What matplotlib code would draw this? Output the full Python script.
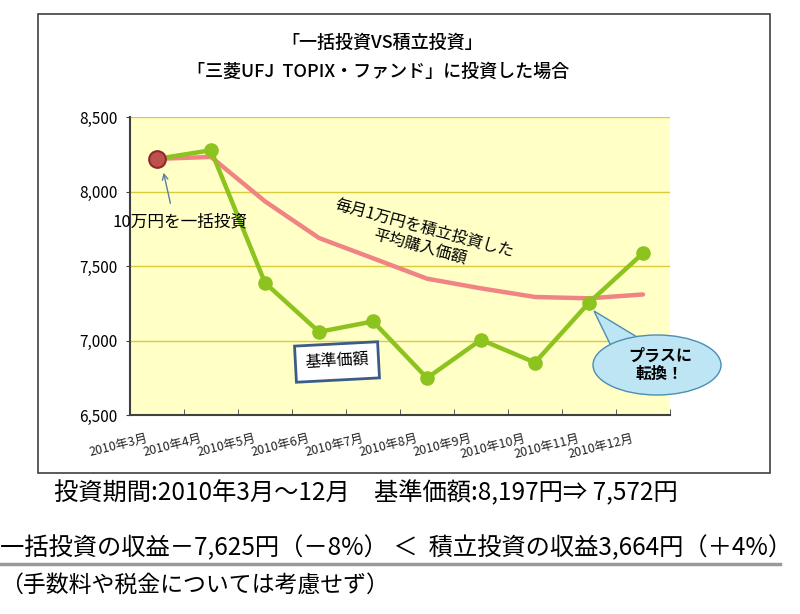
import matplotlib
matplotlib.use("Agg")
import matplotlib.pyplot as plt
import matplotlib.transforms as mtransforms
from matplotlib.patches import Rectangle, Ellipse, Polygon
from matplotlib.ticker import FuncFormatter, MultipleLocator

plt.rcParams["font.family"] = ["Noto Sans CJK JP", "DejaVu Sans"]

months = ["2010年3月", "2010年4月", "2010年5月", "2010年6月", "2010年7月",
          "2010年8月", "2010年9月", "2010年10月", "2010年11月", "2010年12月"]
nav = [8219, 8277, 7387, 7058, 7128, 6748, 7005, 6852, 7254, 7586]
avg_cost = [8219, 8232, 7934, 7688, 7552, 7415, 7350, 7292, 7283, 7309]

W, H = 800, 614


def fx(x):
    return x / W


def fy(y):
    return 1 - y / H


fig = plt.figure(figsize=(8, 6.14), dpi=100)
fig.patch.set_facecolor("white")

# chart frame
fig.patches.append(Rectangle((fx(38), fy(473)), fx(732), 459 / H, transform=fig.transFigure,
                             fill=False, edgecolor="#404040", linewidth=1.2, zorder=0))

ax = fig.add_axes([fx(130), fy(415), fx(540), 298 / H])
ax.set_facecolor("#FFFFC6")
x = list(range(len(months)))

ax.plot(x, avg_cost, color="#F08484", linewidth=3.2, zorder=3, solid_capstyle="round")
ax.plot(x, nav, color="#8CC31E", linewidth=3.2, marker="o", markersize=9.5,
        markerfacecolor="#8CC31E", markeredgecolor="#8CC31E", zorder=4)
ax.plot(x[0], nav[0], marker="o", markersize=12, markerfacecolor="#C0504D",
        markeredgecolor="#8B2A2A", markeredgewidth=1.5, zorder=5)

ax.set_xlim(-0.5, len(months) - 0.5)
ax.set_ylim(6500, 8500)
ax.yaxis.set_major_locator(MultipleLocator(500))
ax.yaxis.set_major_formatter(FuncFormatter(lambda v, p: f"{int(v):,}"))
ax.grid(axis="y", color="#D9CC3A", linewidth=1)
ax.set_axisbelow(True)

for s in ["top", "right"]:
    ax.spines[s].set_visible(False)
ax.spines["left"].set_color("#404040")
ax.spines["bottom"].set_color("#404040")
ax.spines["left"].set_linewidth(1.5)
ax.spines["bottom"].set_linewidth(1.5)

ax.set_xticks(x)
ax.set_xticklabels(months, rotation=14, ha="right", rotation_mode="anchor", fontsize=9,
                   color="#222222")
ax.set_xticks([i + 0.5 for i in x], minor=True)
ax.tick_params(axis="x", which="major", length=0, pad=12)
ax.tick_params(axis="x", which="minor", length=4, direction="in", color="#404040")
ax.tick_params(axis="y", length=3, direction="out", labelsize=11, color="#404040", pad=6)
offset = mtransforms.ScaledTranslation(-11 / 100, 0, fig.dpi_scale_trans)
for lbl in ax.get_xticklabels():
    lbl.set_transform(lbl.get_transform() + offset)

# title
fig.text(fx(382), fy(43), "「一括投資VS積立投資」", ha="center", va="center", fontsize=13,
         fontweight="medium")
fig.text(fx(378), fy(72), "「三菱UFJ  TOPIX・ファンド」に投資した場合", ha="center", va="center",
         fontsize=13, fontweight="medium")

# annotations inside the chart
fig.text(fx(113), fy(222), "10万円を一括投資", ha="left", va="center", fontsize=12)
ax.annotate("", xy=(fx(163), fy(170)), xytext=(fx(171), fy(206)),
            xycoords="figure fraction", textcoords="figure fraction",
            arrowprops=dict(arrowstyle="->", color="#5A7FA8", lw=1))

fig.text(fx(422), fy(238), "毎月1万円を積立投資した\n平均購入価額", ha="center", va="center",
         fontsize=11.5, rotation=-15, linespacing=1.05)

fig.text(fx(337), fy(362), "基準価額", ha="center", va="center", fontsize=11.5, rotation=3,
         bbox=dict(boxstyle="square,pad=0.6", facecolor="white", edgecolor="#3B5C88", linewidth=2))

# speech bubble
tail = Polygon([(fx(594), fy(311)), (fx(612), fy(348)), (fx(642), fy(340))], closed=True,
               transform=fig.transFigure, facecolor="#BEE5F4", edgecolor="#4A8EB5", linewidth=1, zorder=5)
bubble = Ellipse((fx(657), fy(365)), fx(128), 60 / H, transform=fig.transFigure,
                 facecolor="#BEE5F4", edgecolor="#4A8EB5", linewidth=1, zorder=6)
fig.patches.extend([tail, bubble])
fig.text(fx(660), fy(365), "プラスに\n転換！", ha="center", va="center", fontsize=11.5,
         fontweight="bold", linespacing=1.15, zorder=7)

# text below the chart
fig.text(fx(54), fy(493), "投資期間:2010年3月～12月　基準価額:8,197円⇒ 7,572円", ha="left",
         va="center", fontsize=17.5)
fig.text(fx(0), fy(548), "一括投資の収益－7,625円（－8%） ＜  積立投資の収益3,664円（＋4%）", ha="left",
         va="center", fontsize=17.5)
fig.lines.append(plt.Line2D([0, fx(780)], [fy(564), fy(564)], transform=fig.transFigure,
                            color="#9A9A9A", linewidth=2.5))
fig.text(fx(0), fy(585), "（手数料や税金については考慮せず）", ha="left", va="center", fontsize=16.5)

fig.savefig("out.png", dpi=100)
